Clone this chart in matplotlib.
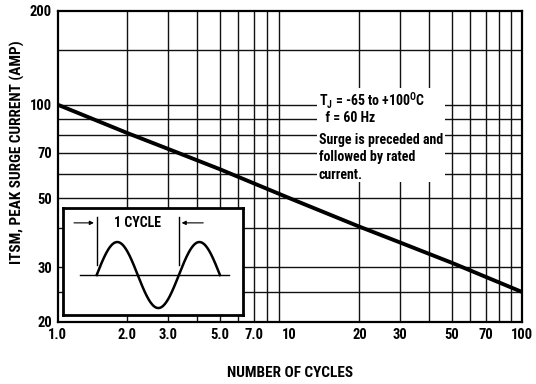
import numpy as np
import matplotlib.pyplot as plt
from matplotlib.patches import Rectangle

# Peak surge current vs number of cycles
cycles = [1, 2, 3, 5, 10, 20, 30, 50, 100]
surge_amp = [100, 81, 72, 62, 50, 40.5, 36, 31, 25]

x_ticks = [1, 2, 3, 5, 7, 10, 20, 30, 50, 70, 100]
x_labels = ['1.0', '2.0', '3.0', '5.0', '7.0', '10', '20', '30', '50', '70', '100']
y_ticks = [20, 30, 50, 70, 100, 200]
y_labels = ['20', '30', '50', '70', '100', '200']
y_grid = [25, 30, 40, 50, 60, 70, 80, 90, 100, 150]

conditions = ['T$_\\mathregular{J}$ = -65 to +100$^\\mathregular{O}$C', '  f = 60 Hz',
              'Surge is preceded and', 'followed by rated', 'current.']
cond_y = [0.711, 0.656, 0.585, 0.531, 0.473]

plt.rcParams['font.family'] = ['Roboto Condensed', 'DejaVu Sans']
plt.rcParams['font.weight'] = 'bold'
plt.rcParams['axes.labelweight'] = 'bold'
plt.rcParams['mathtext.default'] = 'regular'
plt.rcParams['mathtext.fontset'] = 'custom'
plt.rcParams['mathtext.rm'] = 'Roboto Condensed:bold'

fig = plt.figure(figsize=(5.36, 3.84), dpi=100)
ax = fig.add_axes([0.1073, 0.1615, 0.866, 0.8099])
ax.set_xscale('log')
ax.set_yscale('log')
ax.set_xlim(1, 100)
ax.set_ylim(20, 200)

# log grid
for d in [1, 10]:
    for k in range(2, 10):
        ax.axvline(d * k, color='#111111', lw=1.0, zorder=1)
for v in y_grid:
    ax.axhline(v, color='#111111', lw=1.0, zorder=1)

ax.plot(cycles, surge_amp, color='black', lw=2.8, zorder=4, solid_capstyle='butt')

ax.set_xticks(x_ticks)
ax.set_xticklabels(x_labels, fontweight='bold')
ax.set_yticks(y_ticks)
ax.set_yticklabels(y_labels, fontweight='bold')
ax.minorticks_off()
ax.tick_params(length=0, labelsize=10.5)
ax.tick_params(axis='x', pad=4)
ax.tick_params(axis='y', pad=4)
for s in ax.spines.values():
    s.set_linewidth(1.6)

ax.set_xlabel('NUMBER OF CYCLES', fontsize=11, fontweight='bold')
ax.xaxis.set_label_coords(0.5, -0.143)
ax.set_ylabel('ITSM, PEAK SURGE CURRENT (AMP)', fontsize=11, fontweight='bold')
ax.yaxis.set_label_coords(-0.07, 0.547)

# white box behind the conditions text
ax.add_patch(Rectangle((0.559, 0.45), 0.276, 0.302, transform=ax.transAxes,
                       facecolor='white', edgecolor='none', zorder=2))
for t, yy in zip(conditions, cond_y):
    ax.text(0.563, yy, t, transform=ax.transAxes, fontsize=10, fontweight='bold',
            va='center', ha='left', zorder=3)

# inset: one-cycle sketch
ins = fig.add_axes([0.1175, 0.1797, 0.3358, 0.2786])
ins.set_xlim(-0.41, 1.78)
ins.set_ylim(-1.21, 2.03)
ins.set_xticks([])
ins.set_yticks([])
ins.set_facecolor('white')
for s in ins.spines.values():
    s.set_linewidth(2)
ph = np.linspace(0, 1.5, 300)
ins.plot(ph, np.sin(2 * np.pi * ph), color='black', lw=1.8)
ins.plot([-0.2, 1.61], [0, 0], color='black', lw=1.0)
ins.plot([0, 0], [0.3, 1.75], color='black', lw=1.0)
ins.plot([1, 1], [0.3, 1.75], color='black', lw=1.0)
ins.annotate('', xy=(0, 1.58), xytext=(-0.31, 1.58),
             arrowprops=dict(arrowstyle='-|>', color='black', lw=0.8, mutation_scale=6))
ins.annotate('', xy=(1, 1.58), xytext=(1.33, 1.58),
             arrowprops=dict(arrowstyle='-|>', color='black', lw=0.8, mutation_scale=6))
ins.text(0.5, 1.58, '1 CYCLE', ha='center', va='center', fontsize=10, fontweight='bold')

fig.savefig('out.png', dpi=100)
